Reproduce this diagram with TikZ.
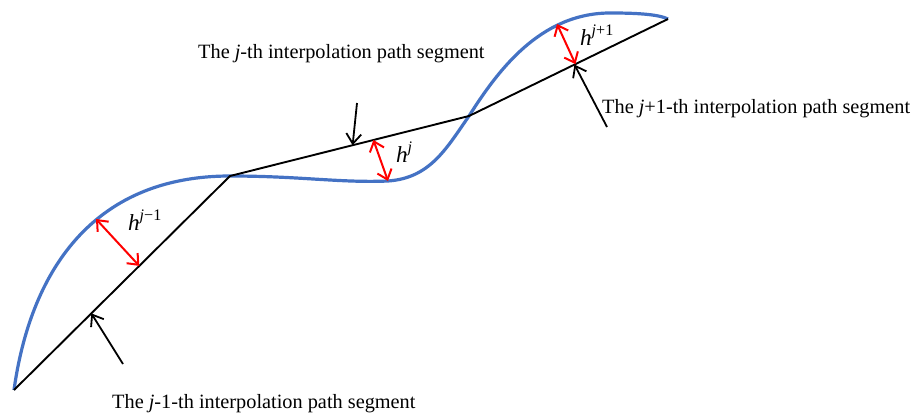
\documentclass[tikz,border=0pt]{standalone}
\usepackage{fontspec}
\setmainfont{Liberation Serif}
\usetikzlibrary{arrows.meta,calc}
\definecolor{curveblue}{RGB}{68,114,196}

\begin{document}
\begin{tikzpicture}[x=1pt, y=-1pt,
    seg/.style={black, line width=1.9pt, line join=round},
    curve/.style={curveblue, line width=3.2pt},
    harr/.style={{Straight Barb[length=9pt,width=15pt]}-{Straight Barb[length=9pt,width=15pt]}, red, line width=2pt},
    ptr/.style={-{Straight Barb[length=10pt,width=15pt]}, black, line width=1.8pt},
    lbl/.style={font=\fontsize{20.3}{22}\selectfont, inner sep=0pt, anchor=base west},
    hlbl/.style={font=\fontsize{23}{25}\selectfont, inner sep=0pt, anchor=base west}]
\useasboundingbox (0,0) rectangle (915,413);
\coordinate (p0) at (14,390);
\coordinate (p1) at (230,176);
\coordinate (p2) at (469,116);
\coordinate (p3) at (668,19);
\coordinate (m) at (388,181);
\coordinate (pk) at (612,13);
\draw[curve] (p0) .. controls (30,275) and (90,176) .. (p1)
  .. controls (300,176) and (340,183) .. (m)
  .. controls (430,178) and (446,149) .. (p2)
  .. controls (497,72) and (540,12) .. (pk)
  .. controls (642,13) and (660,15) .. (p3);
\draw[seg] (p0) -- (p1) -- (p2) -- (p3);
\coordinate (c1) at (96,219);
\coordinate (b1) at ($(p0)!0.58!(p1)$);
\coordinate (b2) at ($(p1)!0.6!(p2)$);
\coordinate (c3) at (557,24);
\coordinate (b3) at ($(p2)!0.535!(p3)$);
\draw[harr] (c1) -- (b1); \draw[harr] (b2) -- (m); \draw[harr] (c3) -- (b3);
\coordinate (t1) at (123,364);
\coordinate (t2) at (357,103);
\coordinate (t3) at (607,127);
\coordinate (s1) at ($(p0)!0.358!(p1)$);
\coordinate (s2) at ($(p1)!0.513!(p2)$);
\coordinate (s3) at ($(p2)!0.53!(p3)$);
\draw[ptr] (t1) -- (s1); \draw[ptr] (t2) -- (s2); \draw[ptr] (t3) -- (s3);
\node[hlbl] (h1) at (128,230) {\textit{h}\textsuperscript{\textit{j}−1}};
\node[hlbl] (h2) at (396,162) {\textit{h}\textsuperscript{\textit{j}}};
\node[hlbl] (h3) at (580,45) {\textit{h}\textsuperscript{\textit{j}+1}};
\node[lbl] (tj) at (198,58) {The \textit{j}-th interpolation path segment};
\node[lbl] (tjm) at (112,408) {The \textit{j}-1-th interpolation path segment};
\node[lbl] (tjp) at (602,113) {The \textit{j}+1-th interpolation path segment};
\end{tikzpicture}
\end{document}
